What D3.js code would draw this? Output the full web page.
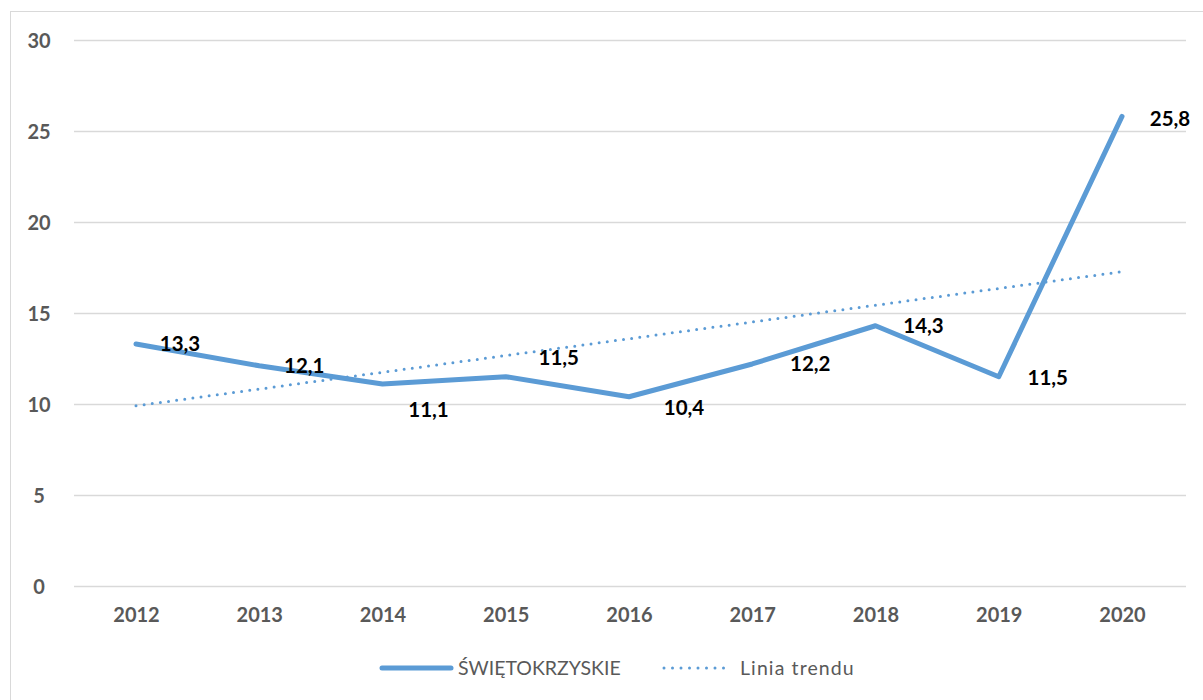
<!DOCTYPE html>
<html><head><meta charset="utf-8">
<script src="https://cdn.jsdelivr.net/npm/d3@7"></script>
<style>body{margin:0;background:#fff}svg{display:block}</style>
</head><body>
<svg id="c" width="1203" height="700"></svg>
<script>
const years = ["2012","2013","2014","2015","2016","2017","2018","2019","2020"];
const values = [13.3, 12.1, 11.1, 11.5, 10.4, 12.2, 14.3, 11.5, 25.8];
const labels = ["13,3","12,1","11,1","11,5","10,4","12,2","14,3","11,5","25,8"];
const trendYears = ["2012","2020"];
const trendValues = [9.9, 17.27];
const yTicks = [0, 5, 10, 15, 20, 25, 30];
const seriesName = "ŚWIĘTOKRZYSKIE";
const trendName = "Linia trendu";
// label placement offsets (px) relative to each point
const labelDx = [44, 45, 46, 53, 55, 58, 48, 49, 48];
const labelDy = [0, 0, 26, -19, 11, 0, 0, 1, 2];

const svg = d3.select("#c");
const font = "Lato, 'Open Sans', sans-serif";
const color = "#5B9BD5";

svg.append("rect").attr("x",10.5).attr("y",11.5).attr("width",1220).attr("height",720)
  .attr("fill","#fff").attr("stroke","#d9d9d9").attr("stroke-width",1);

const x = d3.scalePoint().domain(years).range([136, 1122]);
const y = d3.scaleLinear().domain([0, 30]).range([586, 40]);

// gridlines
svg.append("g").selectAll("line").data(yTicks).join("line")
  .attr("x1",74).attr("x2",1186)
  .attr("y1",d=>Math.round(y(d))+0.5).attr("y2",d=>Math.round(y(d))+0.5)
  .attr("stroke","#d9d9d9").attr("stroke-width",1.5);

// y axis labels
const yAxis = d3.axisLeft(y).tickValues(yTicks).tickSize(0).tickPadding(0);
const gy = svg.append("g").attr("transform","translate(39,0)").call(yAxis);
gy.select(".domain").remove();
gy.selectAll("text").attr("font-family",font).attr("font-weight","bold")
  .attr("font-size",20).attr("fill","#595959").attr("text-anchor","middle").attr("dy","0.35em");

// x axis labels
const xAxis = d3.axisBottom(x).tickSize(0).tickPadding(0);
const gx = svg.append("g").attr("transform","translate(0,615)").call(xAxis);
gx.select(".domain").remove();
gx.selectAll("text").attr("font-family",font).attr("font-weight","bold")
  .attr("font-size",20).attr("fill","#595959").attr("dy","0.35em");

// trend line
svg.append("path").datum(trendYears.map((d,i)=>({k:d,v:trendValues[i]})))
  .attr("d", d3.line().x(d=>x(d.k)).y(d=>y(d.v)))
  .attr("fill","none").attr("stroke",color).attr("stroke-width",3)
  .attr("stroke-linecap","round").attr("stroke-dasharray","0 8.2");

// series line
const pts = years.map((d,i)=>({k:d,v:values[i],l:labels[i],dx:labelDx[i],dy:labelDy[i]}));
svg.append("path").datum(pts)
  .attr("d", d3.line().x(d=>x(d.k)).y(d=>y(d.v)))
  .attr("fill","none").attr("stroke",color).attr("stroke-width",5)
  .attr("stroke-linecap","round").attr("stroke-linejoin","round");

// data labels
svg.append("g").selectAll("text").data(pts).join("text")
  .attr("x",d=>x(d.k)+d.dx).attr("y",d=>y(d.v)+d.dy)
  .attr("text-anchor","middle").attr("dy","0.35em")
  .attr("font-family",font).attr("font-weight","bold").attr("font-size",20.5)
  .attr("fill","#000").text(d=>d.l);

// legend
const lg = svg.append("g");
lg.append("line").attr("x1",382).attr("x2",451).attr("y1",668).attr("y2",668)
  .attr("stroke",color).attr("stroke-width",5).attr("stroke-linecap","round");
lg.append("text").attr("x",458).attr("y",668).attr("dy","0.35em")
  .attr("font-family",font).attr("font-size",19.5).attr("fill","#595959").text(seriesName);
lg.append("line").attr("x1",664).attr("x2",732).attr("y1",668).attr("y2",668)
  .attr("stroke",color).attr("stroke-width",3).attr("stroke-linecap","round")
  .attr("stroke-dasharray","0 8.5");
lg.append("text").attr("x",740).attr("y",668).attr("dy","0.35em")
  .attr("font-family",font).attr("font-size",19.5).attr("letter-spacing",1.1)
  .attr("fill","#595959").text(trendName);
</script>
</body></html>
